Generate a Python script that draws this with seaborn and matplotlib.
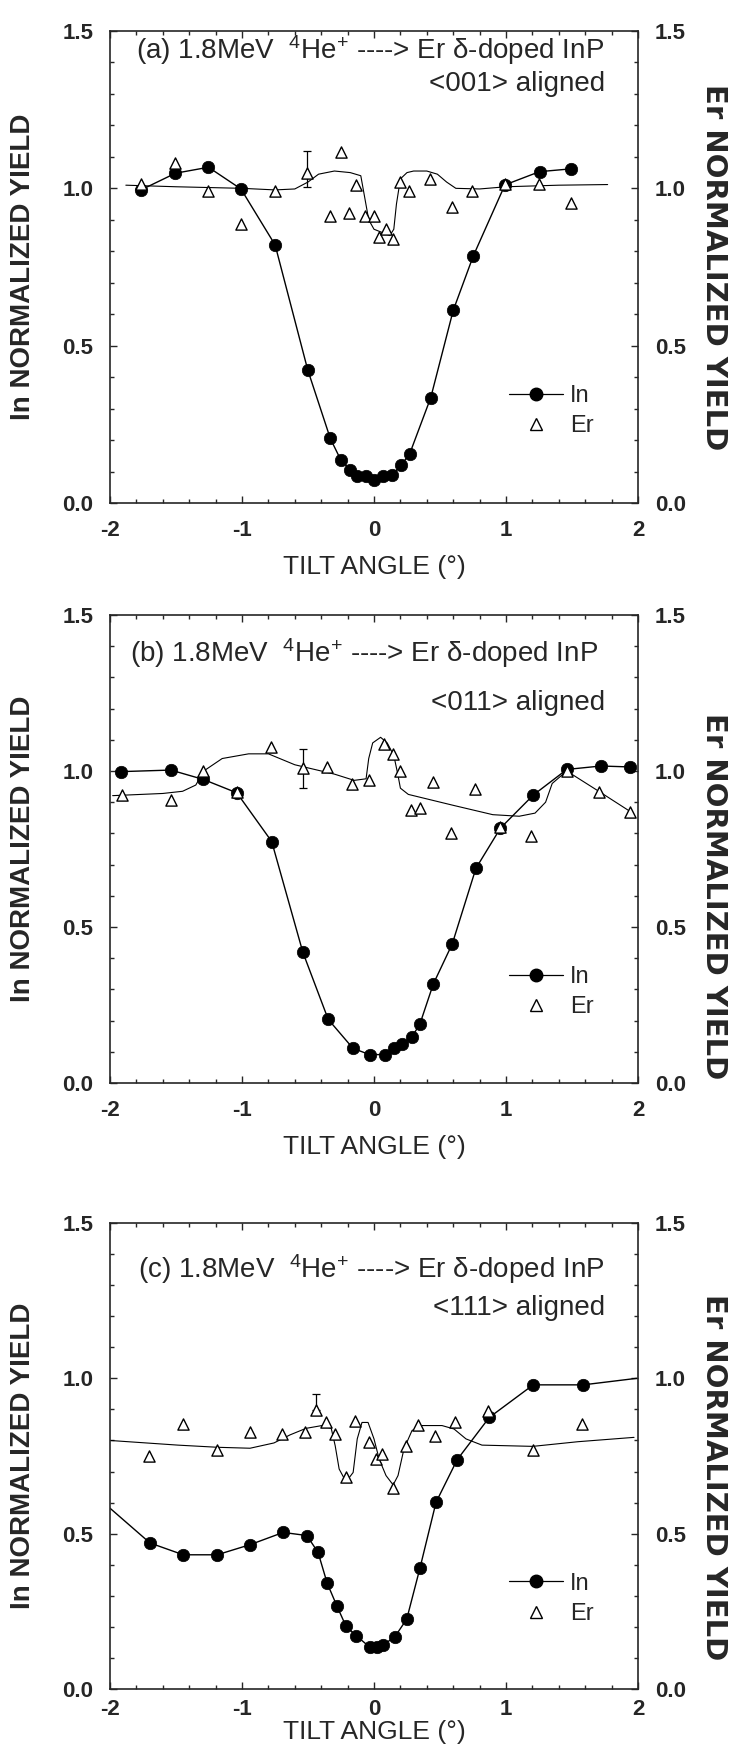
import numpy as np
import pandas as pd
import matplotlib
matplotlib.use('Agg')
import matplotlib.pyplot as plt
import seaborn as sns
from matplotlib.lines import Line2D
from matplotlib.ticker import MultipleLocator

# ---- panel (a) <001> ----
a_in_x = [-1.765, -1.504, -1.254, -1.008, -0.749, -0.502, -0.331, -0.253, -0.18, -0.126, -0.06, 0.0,
          0.066, 0.138, 0.205, 0.271, 0.43, 0.60, 0.752, 0.992, 1.254, 1.495]
a_in_y = [0.995, 1.048, 1.067, 0.998, 0.820, 0.423, 0.205, 0.138, 0.105, 0.085, 0.085, 0.074,
          0.085, 0.09, 0.12, 0.157, 0.335, 0.612, 0.785, 1.011, 1.053, 1.062]
a_er_x = [-1.765, -1.504, -1.254, -1.008, -0.752, -0.505, -0.331, -0.253, -0.192, -0.138, -0.066, 0.0,
          0.039, 0.09, 0.144, 0.2, 0.265, 0.421, 0.592, 0.743, 0.992, 1.248, 1.495]
a_er_y = [1.013, 1.08, 0.993, 0.886, 0.991, 1.048, 0.912, 1.117, 0.922, 1.01, 0.912, 0.912,
          0.846, 0.872, 0.84, 1.019, 0.991, 1.029, 0.941, 0.991, 1.014, 1.013, 0.954]
a_fit_x = [-1.88, -1.5, -1.0, -0.75, -0.6, -0.5, -0.42, -0.3, -0.18, -0.1, -0.07, -0.04, 0.0, 0.06,
           0.12, 0.15, 0.17, 0.2, 0.25, 0.3, 0.4, 0.48, 0.55, 0.62, 0.8, 1.0, 1.4, 1.77]
a_fit_y = [1.01, 1.005, 1.0, 0.995, 0.998, 1.02, 1.045, 1.055, 1.05, 1.04, 0.97, 0.9, 0.87, 0.86,
           0.85, 0.87, 0.95, 1.03, 1.05, 1.055, 1.055, 1.045, 1.02, 1.0, 0.998, 1.005, 1.01, 1.012]
a_err = (-0.505, 1.005, 1.12)

# ---- panel (b) <011> ----
b_in_x = [-1.916, -1.539, -1.293, -1.039, -0.775, -0.539, -0.347, -0.159, -0.033, 0.084, 0.153, 0.21,
          0.287, 0.347, 0.449, 0.593, 0.772, 0.958, 1.207, 1.461, 1.719, 1.94]
b_in_y = [0.998, 1.003, 0.973, 0.930, 0.774, 0.419, 0.204, 0.111, 0.091, 0.091, 0.113, 0.124,
          0.148, 0.188, 0.317, 0.446, 0.688, 0.817, 0.923, 1.005, 1.016, 1.013]
b_er_x = [-1.907, -1.539, -1.293, -1.039, -0.784, -0.539, -0.359, -0.165, -0.039, 0.078, 0.144, 0.195,
          0.278, 0.347, 0.449, 0.584, 0.766, 0.958, 1.192, 1.461, 1.707, 1.94]
b_er_y = [0.923, 0.906, 1.0, 0.932, 1.078, 1.011, 1.013, 0.957, 0.970, 1.088, 1.054, 1.0,
          0.876, 0.880, 0.966, 0.801, 0.943, 0.819, 0.792, 1.0, 0.933, 0.868]
b_fit_x = [-1.98, -1.6, -1.45, -1.35, -1.29, -1.15, -0.95, -0.8, -0.6, -0.3, -0.15, -0.06, -0.04,
           -0.01, 0.05, 0.1, 0.15, 0.18, 0.2, 0.26, 0.6, 0.9, 1.1, 1.22, 1.3, 1.35, 1.46, 1.71, 1.96]
b_fit_y = [0.921, 0.928, 0.935, 0.955, 1.0, 1.04, 1.055, 1.055, 1.02, 0.99, 0.97, 0.975, 1.04,
           1.09, 1.108, 1.09, 1.05, 0.99, 0.945, 0.925, 0.89, 0.86, 0.855, 0.865, 0.9, 0.96, 1.0, 0.933, 0.865]
b_err = (-0.539, 0.946, 1.07)

# ---- panel (c) <111> ----
c_in_x = [-1.697, -1.445, -1.188, -0.936, -0.688, -0.509, -0.424, -0.355, -0.282, -0.212, -0.136, -0.03,
          0.02, 0.07, 0.158, 0.248, 0.348, 0.47, 0.63, 0.873, 1.206, 1.585]
c_in_y = [0.470, 0.432, 0.432, 0.465, 0.504, 0.494, 0.440, 0.341, 0.268, 0.202, 0.172, 0.134,
          0.134, 0.142, 0.168, 0.225, 0.389, 0.601, 0.738, 0.874, 0.979, 0.979]
c_in_line_x = [-2.0] + c_in_x + [1.99]
c_in_line_y = [0.582] + c_in_y + [1.0]
c_er_x = [-1.703, -1.448, -1.188, -0.936, -0.697, -0.521, -0.439, -0.364, -0.294, -0.212, -0.142, -0.036,
          0.015, 0.061, 0.145, 0.242, 0.333, 0.464, 0.615, 0.864, 1.203, 1.576]
c_er_y = [0.751, 0.853, 0.769, 0.826, 0.821, 0.826, 0.899, 0.861, 0.82, 0.684, 0.863, 0.794,
          0.74, 0.756, 0.647, 0.781, 0.851, 0.815, 0.858, 0.894, 0.769, 0.853]
c_fit_x = [-2.0, -1.485, -1.182, -0.939, -0.758, -0.636, -0.515, -0.394, -0.324, -0.294, -0.264, -0.212,
           -0.158, -0.127, -0.091, -0.045, 0.0, 0.039, 0.091, 0.145, 0.182, 0.227, 0.288, 0.364, 0.515,
           0.606, 0.697, 0.818, 1.203, 1.545, 1.97]
c_fit_y = [0.80, 0.785, 0.778, 0.775, 0.792, 0.818, 0.839, 0.848, 0.839, 0.783, 0.708, 0.667,
           0.697, 0.805, 0.858, 0.858, 0.805, 0.740, 0.687, 0.657, 0.687, 0.773, 0.832, 0.848, 0.848,
           0.837, 0.805, 0.785, 0.781, 0.796, 0.81]
c_err = (-0.439, 0.899, 0.95)

panel_tags = ['(a)', '(b)', '(c)']
directions = ['<001>', '<011>', '<111>']
x_ticks = [-2, -1, 0, 1, 2]
y_ticks = [0.0, 0.5, 1.0, 1.5]

sns.set_theme(style='ticks')
plt.rcParams['font.family'] = ['Liberation Sans', 'DejaVu Sans']
plt.rcParams['mathtext.fontset'] = 'custom'
plt.rcParams['mathtext.rm'] = 'Liberation Sans'
plt.rcParams['mathtext.it'] = 'Liberation Sans'
plt.rcParams['mathtext.bf'] = 'Liberation Sans:bold'
plt.rcParams['axes.linewidth'] = 1.2
plt.rcParams['xtick.direction'] = 'in'
plt.rcParams['ytick.direction'] = 'in'

fig = plt.figure(figsize=(7.41, 17.54), dpi=100)
W, H = 741, 1754

# axes boxes in pixels: left, top, right, bottom
boxes = [(110, 31, 638, 503), (110, 615, 638, 1083), (110, 1223, 638, 1689)]
# annotation positions (data coords): x start, line 1 y, line 2 y
text_pos = [(-1.8, 1.44, 1.33), (-1.85, 1.378, 1.217), (-1.79, 1.35, 1.225)]
xtick_pads = [12, 12, 7]
xlabel_pads = [10, 10, 0]
right_label_y = [0.50, 0.40, 0.455]

panels = [
    (a_in_x, a_in_y, a_in_x, a_in_y, a_er_x, a_er_y, a_fit_x, a_fit_y, a_err),
    (b_in_x, b_in_y, b_in_x, b_in_y, b_er_x, b_er_y, b_fit_x, b_fit_y, b_err),
    (c_in_x, c_in_y, c_in_line_x, c_in_line_y, c_er_x, c_er_y, c_fit_x, c_fit_y, c_err),
]

for i, (box, pdata) in enumerate(zip(boxes, panels)):
    l, t, r, b = box
    ax = fig.add_axes([l / W, 1 - b / H, (r - l) / W, (b - t) / H])
    in_x, in_y, line_x, line_y, er_x, er_y, fit_x, fit_y, err = pdata

    # fitted Er curve
    sns.lineplot(x=fit_x, y=fit_y, ax=ax, color='black', lw=0.8, sort=False, estimator=None)
    # In line + points
    sns.lineplot(x=line_x, y=line_y, ax=ax, color='black', lw=1.0, sort=False, estimator=None)
    sns.scatterplot(x=in_x, y=in_y, ax=ax, color='black', s=80, marker='o', edgecolor='black',
                    linewidth=0.5, zorder=4)
    # Er points
    sns.scatterplot(x=er_x, y=er_y, ax=ax, marker='^', s=65, facecolor='white', edgecolor='black',
                    linewidth=1.0, zorder=5)
    # representative error bar
    ax.errorbar([err[0]], [(err[1] + err[2]) / 2], yerr=[[(err[2] - err[1]) / 2]], fmt='none',
                ecolor='black', elinewidth=0.9, capsize=3, capthick=0.9, zorder=3)

    ax.set_xlim(-2, 2)
    ax.set_ylim(0, 1.5)
    ax.set_xticks(x_ticks)
    ax.set_xticklabels([f'{v:d}' for v in x_ticks], fontweight='bold')
    ax.set_yticks(y_ticks)
    ax.set_yticklabels([f'{v:.1f}' for v in y_ticks], fontweight='bold')
    ax.xaxis.set_minor_locator(MultipleLocator(0.2))
    ax.yaxis.set_minor_locator(MultipleLocator(0.1))
    ax.tick_params(which='both', top=True, right=True, labelright=True, width=1.0)
    ax.tick_params(which='major', length=5, labelsize=16)
    ax.tick_params(axis='x', which='major', pad=xtick_pads[i])
    ax.tick_params(axis='y', which='major', pad=12)
    ax.tick_params(which='minor', length=3)
    for tk in ax.yaxis.get_major_ticks():
        tk.label1.set_fontweight('bold')
        tk.label2.set_fontweight('bold')

    ax.set_xlabel('TILT ANGLE (°)', fontsize=19, labelpad=xlabel_pads[i])
    ax.set_ylabel('In NORMALIZED YIELD', fontsize=20, fontweight='bold')
    ax.yaxis.set_label_coords(-0.14, 0.5)
    ax.text(1.144, right_label_y[i], 'Er NORMALIZED YIELD', rotation=270, fontsize=21, fontweight='bold',
            family='DejaVu Sans', transform=ax.transAxes, ha='center', va='center')

    tx, ty1, ty2 = text_pos[i]
    ax.text(tx, ty1, panel_tags[i] + ' 1.8MeV  $^{4}$He$^{+}$ ----> Er \u03b4-doped InP', fontsize=20,
            ha='left', va='center')
    ax.text(1.75, ty2, directions[i] + ' aligned', fontsize=20, ha='right', va='center')

    handles = [Line2D([], [], color='black', lw=0.9, marker='o', markersize=9),
               Line2D([], [], color='black', ls='none', marker='^', markersize=8,
                      markerfacecolor='white', markeredgewidth=1.0)]
    ax.legend(handles, ['In', 'Er'], loc='upper left', bbox_to_anchor=(0.755, 0.25), frameon=False,
              fontsize=17, handlelength=2.3, handletextpad=0.3, labelspacing=0.35, borderpad=0,
              borderaxespad=0)

fig.savefig('out.png', dpi=100, facecolor='white')
